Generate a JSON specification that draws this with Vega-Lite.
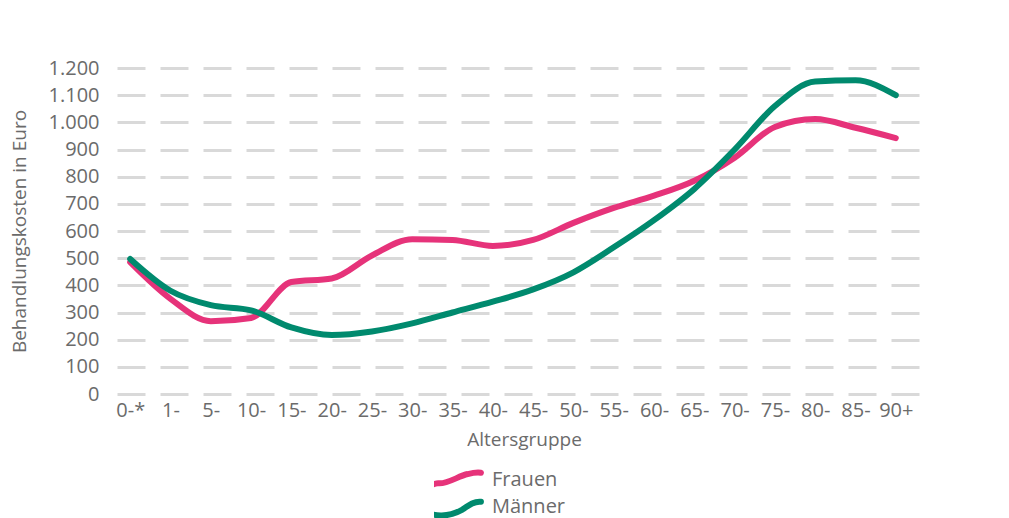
{
  "$schema": "https://vega.github.io/schema/vega-lite/v6.json",
  "width": 818,
  "height": 326,
  "padding": {"left": 10, "top": 58, "right": 5, "bottom": 5},
  "background": "white",
  "config": {
    "font": "Open Sans",
    "view": {"stroke": null},
    "axis": {"labelColor": "#6b6b6b", "titleColor": "#6b6b6b", "labelFontSize": 20, "titleFontSize": 19, "titleFontWeight": "normal", "labelFont": "Open Sans", "titleFont": "Open Sans"},
    "legend": {"labelColor": "#6b6b6b", "labelFontSize": 20, "labelFont": "Open Sans"}
  },
  "data": {
    "values": [
      {"Altersgruppe": "0-*", "Geschlecht": "Frauen", "Kosten": 485},
      {"Altersgruppe": "1-", "Geschlecht": "Frauen", "Kosten": 350},
      {"Altersgruppe": "5-", "Geschlecht": "Frauen", "Kosten": 268},
      {"Altersgruppe": "10-", "Geschlecht": "Frauen", "Kosten": 280},
      {"Altersgruppe": "15-", "Geschlecht": "Frauen", "Kosten": 412},
      {"Altersgruppe": "20-", "Geschlecht": "Frauen", "Kosten": 425},
      {"Altersgruppe": "25-", "Geschlecht": "Frauen", "Kosten": 510},
      {"Altersgruppe": "30-", "Geschlecht": "Frauen", "Kosten": 570},
      {"Altersgruppe": "35-", "Geschlecht": "Frauen", "Kosten": 567},
      {"Altersgruppe": "40-", "Geschlecht": "Frauen", "Kosten": 545},
      {"Altersgruppe": "45-", "Geschlecht": "Frauen", "Kosten": 567},
      {"Altersgruppe": "50-", "Geschlecht": "Frauen", "Kosten": 630},
      {"Altersgruppe": "55-", "Geschlecht": "Frauen", "Kosten": 685},
      {"Altersgruppe": "60-", "Geschlecht": "Frauen", "Kosten": 730},
      {"Altersgruppe": "65-", "Geschlecht": "Frauen", "Kosten": 785},
      {"Altersgruppe": "70-", "Geschlecht": "Frauen", "Kosten": 870},
      {"Altersgruppe": "75-", "Geschlecht": "Frauen", "Kosten": 983},
      {"Altersgruppe": "80-", "Geschlecht": "Frauen", "Kosten": 1012},
      {"Altersgruppe": "85-", "Geschlecht": "Frauen", "Kosten": 980},
      {"Altersgruppe": "90+", "Geschlecht": "Frauen", "Kosten": 942},
      {"Altersgruppe": "0-*", "Geschlecht": "Männer", "Kosten": 497},
      {"Altersgruppe": "1-", "Geschlecht": "Männer", "Kosten": 380},
      {"Altersgruppe": "5-", "Geschlecht": "Männer", "Kosten": 327},
      {"Altersgruppe": "10-", "Geschlecht": "Männer", "Kosten": 308},
      {"Altersgruppe": "15-", "Geschlecht": "Männer", "Kosten": 245},
      {"Altersgruppe": "20-", "Geschlecht": "Männer", "Kosten": 217},
      {"Altersgruppe": "25-", "Geschlecht": "Männer", "Kosten": 230},
      {"Altersgruppe": "30-", "Geschlecht": "Männer", "Kosten": 260},
      {"Altersgruppe": "35-", "Geschlecht": "Männer", "Kosten": 300},
      {"Altersgruppe": "40-", "Geschlecht": "Männer", "Kosten": 340},
      {"Altersgruppe": "45-", "Geschlecht": "Männer", "Kosten": 385},
      {"Altersgruppe": "50-", "Geschlecht": "Männer", "Kosten": 448},
      {"Altersgruppe": "55-", "Geschlecht": "Männer", "Kosten": 540},
      {"Altersgruppe": "60-", "Geschlecht": "Männer", "Kosten": 640},
      {"Altersgruppe": "65-", "Geschlecht": "Männer", "Kosten": 755},
      {"Altersgruppe": "70-", "Geschlecht": "Männer", "Kosten": 900},
      {"Altersgruppe": "75-", "Geschlecht": "Männer", "Kosten": 1060},
      {"Altersgruppe": "80-", "Geschlecht": "Männer", "Kosten": 1150},
      {"Altersgruppe": "85-", "Geschlecht": "Männer", "Kosten": 1155},
      {"Altersgruppe": "90+", "Geschlecht": "Männer", "Kosten": 1100}
    ]
  },
  "mark": {"type": "line", "strokeWidth": 6, "interpolate": "monotone", "strokeCap": "round", "strokeJoin": "round"},
  "encoding": {
    "x": {
      "field": "Altersgruppe", "type": "ordinal", "sort": null,
      "scale": {"type": "point", "padding": 0.65, "align": 0.29},
      "axis": {"title": "Altersgruppe", "labelAngle": 0, "domain": false, "ticks": false, "grid": false, "labelPadding": 6, "titlePadding": 10}
    },
    "y": {
      "field": "Kosten", "type": "quantitative",
      "scale": {"domain": [0, 1200]},
      "axis": {"title": "Behandlungskosten in Euro", "values": [0,100,200,300,400,500,600,700,800,900,1000,1100,1200], "format": ",d", "labelExpr": "replace(datum.label, ',', '.')", "domain": false, "ticks": false, "labelPadding": 16, "titlePadding": 19, "grid": true, "gridColor": "#d9d9d9", "gridWidth": 3, "gridDash": [28, 15], "gridDashOffset": -2}
    },
    "color": {
      "field": "Geschlecht", "type": "nominal",
      "scale": {"domain": ["Frauen", "Männer"], "range": ["#e6337a", "#008a6e"]},
      "legend": {
        "title": null, "orient": "none", "legendX": 319, "legendY": 399, "direction": "vertical",
        "symbolSize": 700, "symbolStrokeWidth": 6, "labelOffset": 25, "rowPadding": 1, "clipHeight": 26,
        "encode": {
          "symbols": {
            "update": {
              "shape": {"signal": "datum.value == 'Frauen' ? 'M-2.3,0.55 C-1.9,0.8 -1.4,0.2 -0.9,0.25 C-0.2,0.3 0.6,-0.3 1.3,-0.45 C1.7,-0.55 2.0,-0.6 2.3,-0.55' : 'M-2.3,0.1 C-1.3,0.9 0,0.7 0.9,0.2 C1.4,-0.15 1.8,-0.45 2.3,-0.4'"},
              "fill": {"value": "transparent"},
              "fillOpacity": {"value": 0},
              "strokeCap": {"value": "round"}
            }
          }
        }
      }
    }
  }
}
